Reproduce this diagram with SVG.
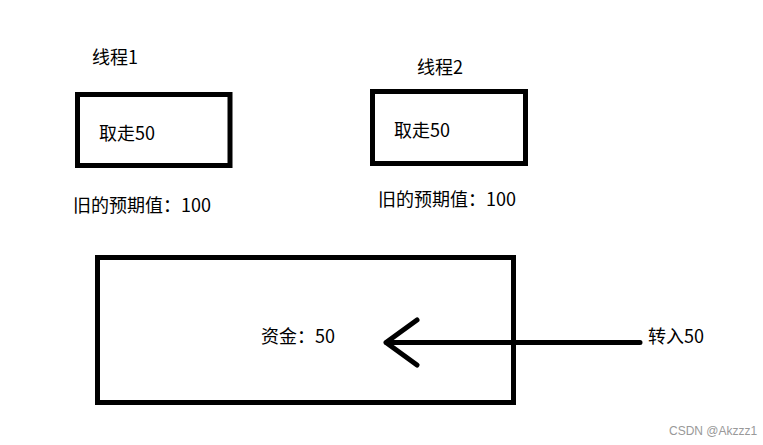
<svg xmlns="http://www.w3.org/2000/svg" width="763" height="445" viewBox="0 0 763 445">
<defs>
<style>
.box{fill:none;stroke:#000;stroke-width:5}
.t{font-family:"Noto Sans CJK SC","Liberation Sans",sans-serif;font-size:18px;fill:#000}
.wm{font-family:"Liberation Sans",sans-serif;font-size:12px;fill:#999}
.line{fill:none;stroke:#000;stroke-width:5;stroke-linecap:round;stroke-linejoin:round}
</style>
</defs>
<rect width="763" height="445" fill="#fff"/>
<g id="thread1">
<text class="t" x="92" y="64">线程1</text>
<rect class="box" x="77.5" y="94.5" width="152.5" height="71"/>
<text class="t" x="99" y="140">取走50</text>
<text class="t" x="73" y="212">旧的预期值：100</text>
</g>
<g id="thread2">
<text class="t" x="417" y="74">线程2</text>
<rect class="box" x="372.5" y="91.5" width="153" height="72"/>
<text class="t" x="394" y="137">取走50</text>
<text class="t" x="378" y="206">旧的预期值：100</text>
</g>
<g id="funds">
<rect class="box" x="97.5" y="257.5" width="416" height="145"/>
<text class="t" x="261" y="343">资金：50</text>
</g>
<g id="transfer">
<text class="t" x="648" y="343">转入50</text>
</g>
<g id="connectors">
<path class="line" d="M640 342.5 H386 M417 320 L386 342.5 L417 365"/>
</g>
<text class="wm" x="669" y="435">CSDN @Akzzz1</text>
</svg>
